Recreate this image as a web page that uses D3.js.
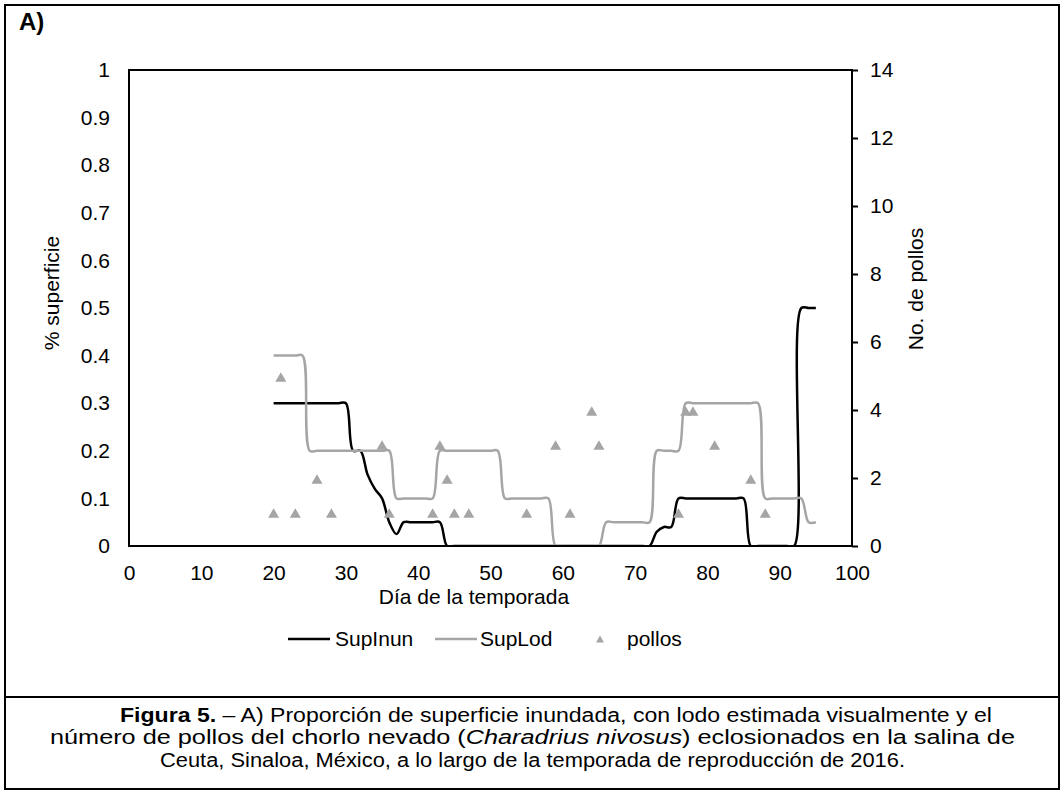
<!DOCTYPE html>
<html>
<head>
<meta charset="utf-8">
<script src="https://cdn.jsdelivr.net/npm/d3@7"></script>
<style>
  body { margin: 0; background: #fff; }
  svg { display: block; font-family: "Liberation Sans", Arial, sans-serif; }
</style>
</head>
<body>
<svg id="fig" width="1061" height="791"></svg>
<script>
// Día de la temporada (daily observations, days 20–95)
const dias = d3.range(20, 96);

// Proportion of flooded surface
const supInun = [
  0.3, 0.3, 0.3, 0.3, 0.3, 0.3, 0.3, 0.3, 0.3, 0.3, 0.3,           // 20–30
  0.2, 0.2, 0.15, 0.12, 0.1, 0.05, 0.025,                           // 31–37
  0.05, 0.05, 0.05, 0.05, 0.05, 0.05,                               // 38–43
  0, 0, 0, 0, 0, 0, 0, 0, 0, 0, 0, 0, 0, 0, 0, 0, 0, 0, 0, 0,      // 44–63
  0, 0, 0, 0, 0, 0, 0, 0, 0,                                        // 64–72
  0.03, 0.04, 0.04,                                                 // 73–75
  0.1, 0.1, 0.1, 0.1, 0.1, 0.1, 0.1, 0.1, 0.1, 0.1,                 // 76–85
  0, 0, 0, 0, 0, 0, 0,                                              // 86–92
  0.5, 0.5, 0.5                                                     // 93–95
];

// Proportion of surface with mud
const supLod = [
  0.4, 0.4, 0.4, 0.4, 0.4,                                          // 20–24
  0.2, 0.2, 0.2, 0.2, 0.2, 0.2, 0.2, 0.2, 0.2, 0.2, 0.2, 0.2,       // 25–36
  0.1, 0.1, 0.1, 0.1, 0.1, 0.1,                                     // 37–42
  0.2, 0.2, 0.2, 0.2, 0.2, 0.2, 0.2, 0.2, 0.2,                      // 43–51
  0.1, 0.1, 0.1, 0.1, 0.1, 0.1, 0.1,                                // 52–58
  0, 0, 0, 0, 0, 0, 0,                                              // 59–65
  0.05, 0.05, 0.05, 0.05, 0.05, 0.05, 0.05,                         // 66–72
  0.2, 0.2, 0.2, 0.2,                                               // 73–76
  0.3, 0.3, 0.3, 0.3, 0.3, 0.3, 0.3, 0.3, 0.3, 0.3, 0.3,            // 77–87
  0.1, 0.1, 0.1, 0.1, 0.1, 0.1,                                     // 88–93
  0.05, 0.05                                                        // 94–95
];

// Chicks hatched (right axis)
const pollosDia = [20, 21, 23, 26, 28, 35, 36, 42, 43, 44, 45, 47, 55, 59, 61, 64, 65, 76, 77, 78, 81, 86, 88];
const pollosNum = [1, 5, 1, 2, 1, 3, 1, 1, 3, 2, 1, 1, 1, 3, 1, 4, 3, 1, 4, 4, 3, 2, 1];

// Tick labels
const xTicks = [0, 10, 20, 30, 40, 50, 60, 70, 80, 90, 100];
const yLeftTicks = [0, 0.1, 0.2, 0.3, 0.4, 0.5, 0.6, 0.7, 0.8, 0.9, 1];
const yRightTicks = [0, 2, 4, 6, 8, 10, 12, 14];

const colInun = "#000000";
const colLod = "#a5a5a5";
const colPollos = "#a5a5a5";

const FS = 21; // chart text size

const svg = d3.select("#fig");

// Plot geometry
const L = 129, R = 852, T = 70, B = 546;

const x = d3.scaleLinear().domain([0, 100]).range([L, R]);
const yL = d3.scaleLinear().domain([0, 1]).range([B, T]);
const yR = d3.scaleLinear().domain([0, 14]).range([B, T]);

// Outer figure frame and caption divider
svg.append("rect")
  .attr("x", 5).attr("y", 5).attr("width", 1054).attr("height", 784)
  .attr("fill", "none").attr("stroke", "#000").attr("stroke-width", 2);
svg.append("line")
  .attr("x1", 5).attr("x2", 1059).attr("y1", 697).attr("y2", 697)
  .attr("stroke", "#000").attr("stroke-width", 2);

// Panel label
svg.append("text")
  .attr("x", 19).attr("y", 30)
  .attr("font-size", 24).attr("font-weight", "bold")
  .text("A)");

// Axes
const fmtLeft = d => (d === 0 || d === 1) ? String(d) : d.toFixed(1);

const gLeft = svg.append("g").attr("transform", `translate(${L},0)`)
  .call(d3.axisLeft(yL).tickValues(yLeftTicks).tickFormat(fmtLeft).tickSize(0).tickPadding(19));
const gBottom = svg.append("g").attr("transform", `translate(0,${B})`)
  .call(d3.axisBottom(x).tickValues(xTicks).tickFormat(d3.format("d")).tickSize(0).tickPadding(19));
const gRight = svg.append("g").attr("transform", `translate(${R},0)`)
  .call(d3.axisRight(yR).tickValues(yRightTicks).tickFormat(d3.format("d")).tickSize(6).tickPadding(12));

[gLeft, gBottom, gRight].forEach(g => {
  g.select(".domain").remove();
  g.selectAll("text").attr("font-size", FS).attr("fill", "#000")
    .attr("font-family", "'Liberation Sans', Arial, sans-serif");
});
gRight.selectAll(".tick line").attr("stroke", "#000").attr("stroke-width", 2);

// Clip for smoothed series
svg.append("clipPath").attr("id", "plotClip")
  .append("rect").attr("x", L).attr("y", T - 5).attr("width", R - L).attr("height", B - T + 5);

const line = d3.line()
  .x(d => x(d[0]))
  .y(d => yL(d[1]))
  .curve(d3.curveCatmullRom.alpha(0.5));

const gSeries = svg.append("g").attr("clip-path", "url(#plotClip)");

gSeries.append("path")
  .datum(dias.map((d, i) => [d, supInun[i]]))
  .attr("d", line)
  .attr("fill", "none").attr("stroke", colInun).attr("stroke-width", 2.5)
  .attr("stroke-linejoin", "round");

gSeries.append("path")
  .datum(dias.map((d, i) => [d, supLod[i]]))
  .attr("d", line)
  .attr("fill", "none").attr("stroke", colLod).attr("stroke-width", 2.5)
  .attr("stroke-linejoin", "round");

// Plot area border
svg.append("rect")
  .attr("x", L).attr("y", T).attr("width", R - L).attr("height", B - T)
  .attr("fill", "none").attr("stroke", "#000").attr("stroke-width", 2);

// Chick markers
const tri = (w, h) => `M0,${-h / 2}L${w / 2},${h / 2}L${-w / 2},${h / 2}Z`;
svg.append("g").selectAll("path")
  .data(pollosDia.map((d, i) => [d, pollosNum[i]]))
  .join("path")
  .attr("d", tri(11, 9.5))
  .attr("transform", d => `translate(${x(d[0])},${yR(d[1]) + 1})`)
  .attr("fill", colPollos);

// Axis titles
svg.append("text")
  .attr("transform", "translate(52,293) rotate(-90)")
  .attr("text-anchor", "middle").attr("dy", "0.35em")
  .attr("font-size", FS).text("% superficie");
svg.append("text")
  .attr("transform", "translate(916,289) rotate(-90)")
  .attr("text-anchor", "middle").attr("dy", "0.35em")
  .attr("font-size", FS).text("No. de pollos");
svg.append("text")
  .attr("x", 474).attr("y", 597)
  .attr("text-anchor", "middle").attr("dy", "0.35em")
  .attr("font-size", FS).text("Día de la temporada");

// Legend
const legY = 639;
const legend = svg.append("g");
legend.append("line").attr("x1", 288).attr("x2", 330).attr("y1", legY).attr("y2", legY)
  .attr("stroke", colInun).attr("stroke-width", 2.5);
legend.append("text").attr("x", 335).attr("y", legY).attr("dy", "0.35em")
  .attr("font-size", FS).text("SupInun");
legend.append("line").attr("x1", 435).attr("x2", 477).attr("y1", legY).attr("y2", legY)
  .attr("stroke", colLod).attr("stroke-width", 2.5);
legend.append("text").attr("x", 480).attr("y", legY).attr("dy", "0.35em")
  .attr("font-size", FS).text("SupLod");
legend.append("path").attr("d", tri(8, 7))
  .attr("transform", `translate(600,${legY})`).attr("fill", colPollos);
legend.append("text").attr("x", 627).attr("y", legY).attr("dy", "0.35em")
  .attr("font-size", FS).text("pollos");

// Caption: each line is laid out piece by piece and condensed to its width
const capLines = [
  { x: 120, y: 721.5, width: 872, parts: [
    { t: "Figura 5.", w: "bold" },
    { t: " – A) Proporción de superficie inundada, con lodo estimada visualmente y el" }
  ]},
  { x: 50, y: 744.3, width: 965, parts: [
    { t: "número de pollos del chorlo nevado (" },
    { t: "Charadrius nivosus", s: "italic" },
    { t: ") eclosionados en la salina de" }
  ]},
  { x: 160, y: 767.1, width: 745, parts: [
    { t: "Ceuta, Sinaloa, México, a lo largo de la temporada de reproducción de 2016." }
  ]}
];

const cap = svg.append("g").attr("font-size", 20);
capLines.forEach(ln => {
  const nodes = ln.parts.map(p => cap.append("text")
    .attr("y", ln.y)
    .attr("font-weight", p.w || "normal")
    .attr("font-style", p.s || "normal")
    .attr("xml:space", "preserve")
    .style("white-space", "pre")
    .text(p.t));
  const natural = nodes.map(n => n.node().getComputedTextLength());
  const k = ln.width / d3.sum(natural);
  let cx = ln.x;
  nodes.forEach((n, i) => {
    const w = natural[i] * k;
    n.attr("x", cx).attr("textLength", w).attr("lengthAdjust", "spacingAndGlyphs");
    cx += w;
  });
});
</script>
</body>
</html>
